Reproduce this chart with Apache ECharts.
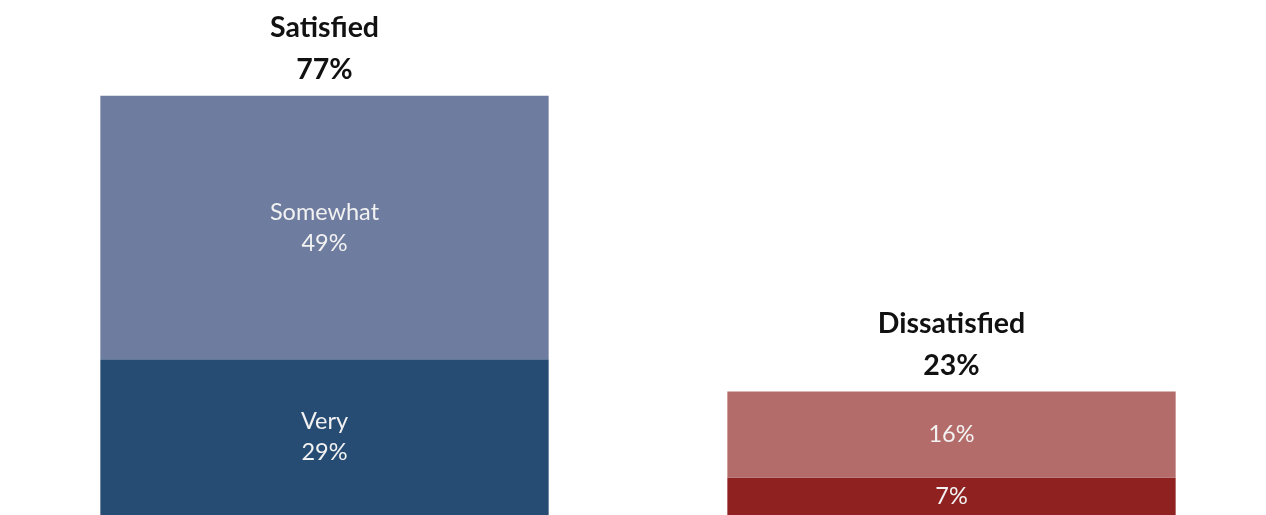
<!DOCTYPE html>
<html>
<head>
<meta charset="utf-8">
<script src="https://cdn.jsdelivr.net/npm/echarts@6/dist/echarts.min.js"></script>
<style>
html,body{margin:0;padding:0;background:#fff;}
#chart{width:1266px;height:515px;}
</style>
</head>
<body>
<div id="chart"></div>
<script>
const categories = ['Satisfied', 'Dissatisfied'];
const totalLabels = ['77%', '23%'];
const lowerValues = [29, 7];
const upperValues = [49, 16];
const lowerNames = ['Very', ''];
const upperNames = ['Somewhat', ''];

const chart = echarts.init(document.getElementById('chart'));
const FONT = 'Lato, "Open Sans", sans-serif';

function innerLabel(names, values) {
  return function (p) {
    const n = names[p.dataIndex];
    return (n ? n + '\n' : '') + values[p.dataIndex] + '%';
  };
}

chart.setOption({
  animation: false,
  backgroundColor: '#ffffff',
  grid: { left: 11, right: 1, top: 4.5, bottom: -4.5, containLabel: false },
  xAxis: {
    type: 'category',
    data: categories,
    show: false
  },
  yAxis: {
    type: 'value',
    min: 0,
    max: 95,
    show: false
  },
  series: [
    {
      name: 'lower',
      type: 'bar',
      stack: 'total',
      barWidth: '71.5%',
      data: lowerValues.map((v, i) => ({
        value: v,
        itemStyle: { color: i === 0 ? '#274C74' : '#8F2121' }
      })),
      label: {
        show: true,
        position: 'inside',
        color: '#F2F2F2',
        fontFamily: FONT,
        fontSize: 23.5,
        lineHeight: 31,
        formatter: innerLabel(lowerNames, lowerValues)
      }
    },
    {
      name: 'upper',
      type: 'bar',
      stack: 'total',
      barWidth: '71.5%',
      data: upperValues.map((v, i) => ({
        value: v,
        itemStyle: { color: i === 0 ? '#6E7C9F' : '#B46C6A' }
      })),
      label: {
        show: true,
        position: 'inside',
        color: '#F2F2F2',
        fontFamily: FONT,
        fontSize: 23.5,
        lineHeight: 31,
        formatter: innerLabel(upperNames, upperValues)
      }
    },
    {
      name: 'heading',
      type: 'bar',
      stack: 'total',
      barWidth: '71.5%',
      data: categories.map(() => 0),
      itemStyle: { color: 'transparent' },
      label: {
        show: true,
        position: 'top',
        distance: 5,
        color: '#111111',
        fontFamily: FONT,
        fontWeight: 'bold',
        fontSize: 28.5,
        lineHeight: 42,
        formatter: function (p) {
          return categories[p.dataIndex] + '\n' + totalLabels[p.dataIndex];
        }
      }
    }
  ]
});
</script>
</body>
</html>
